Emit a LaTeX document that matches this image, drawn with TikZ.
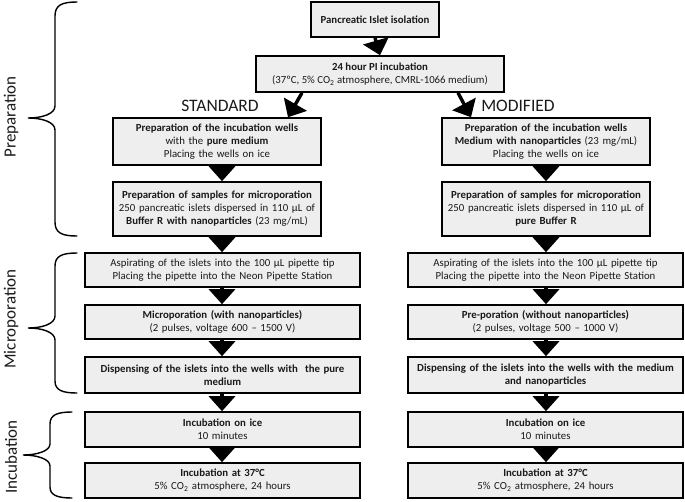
\documentclass[tikz,border=0pt]{standalone}
\usepackage{fontspec}
\setmainfont{Carlito}
\usetikzlibrary{arrows.meta}
\definecolor{boxfill}{HTML}{EEEEEE}
\definecolor{txt}{HTML}{1A1A1A}
\tikzset{
  box/.style={draw, line width=1.6pt, fill=boxfill, align=center, inner sep=1pt,
    text=txt, font=\fontsize{10.8}{13}\selectfont},
  upbox/.style={box, minimum width=208pt, text width=206pt},
  lowbox/.style={box, minimum width=275pt, text width=273pt},
  arr/.style={line width=3.4pt, -{Triangle[width=26pt,length=15pt]}},
  brc/.style={line width=1.4pt, line cap=round},
  side/.style={font=\fontsize{17}{19}\selectfont, text=txt},
  head/.style={font=\fontsize{17.5}{19}\selectfont, text=txt}
}
\begin{document}
\begin{tikzpicture}[x=1pt,y=-1pt]
\useasboundingbox (0,0) rectangle (685,501);
% top
\node[box, minimum width=128pt, minimum height=35pt] (iso) at (375,19.5) {\textbf{Pancreatic Islet isolation}};
\node[box, minimum width=248pt, minimum height=36pt] (pi) at (380,74) {\textbf{24 hour PI incubation}\\(37ºC, 5\% CO\textsubscript{2} atmosphere, CMRL-1066 medium)};
\node[head] (std) at (220,106) {STANDARD};
\node[head] (mod) at (518,106) {MODIFIED};
% left column
\node[upbox, minimum height=47pt] (l1) at (217,141.5) {\textbf{Preparation of the incubation wells}\\with the \textbf{pure medium}\\Placing the wells on ice};
\node[upbox, minimum height=54pt] (l2) at (217,209) {\textbf{Preparation of samples for microporation}\\250 pancreatic islets dispersed in 110 µL of\\\textbf{Buffer R with nanoparticles} (23 mg/mL)};
\node[lowbox, minimum height=34pt] (l3) at (222.5,270) {Aspirating of the islets into the 100 µL pipette tip\\Placing the pipette into the Neon Pipette Station};
\node[lowbox, minimum height=34pt] (l4) at (222.5,322) {\textbf{Microporation (with nanoparticles)}\\(2 pulses, voltage 600 -- 1500 V)};
\node[lowbox, minimum height=36pt] (l5) at (222.5,375) {\textbf{Dispensing of the islets into the wells with\ \ the pure}\\\textbf{medium}};
\node[lowbox, minimum height=35pt] (l6) at (222.5,429.5) {\textbf{Incubation on ice}\\10 minutes};
\node[lowbox, minimum height=35pt] (l7) at (222.5,480.5) {\textbf{Incubation at 37°C}\\5\% CO\textsubscript{2} atmosphere, 24 hours};
% right column
\node[upbox, minimum height=47pt] (r1) at (546,141.5) {\textbf{Preparation of the incubation wells}\\\textbf{Medium with nanoparticles} (23 mg/mL)\\Placing the wells on ice};
\node[upbox, minimum height=54pt] (r2) at (546,209) {\textbf{Preparation of samples for microporation}\\250 pancreatic islets dispersed in 110 µL of\\\textbf{pure Buffer R}};
\node[lowbox, minimum height=34pt] (r3) at (545.5,270) {Aspirating of the islets into the 100 µL pipette tip\\Placing the pipette into the Neon Pipette Station};
\node[lowbox, minimum height=34pt] (r4) at (545.5,322) {\textbf{Pre-poration (without nanoparticles)}\\(2 pulses, voltage 500 -- 1000 V)};
\node[lowbox, minimum height=36pt] (r5) at (545.5,375) {\textbf{Dispensing of the islets into the wells with the medium}\\\textbf{and nanoparticles}};
\node[lowbox, minimum height=35pt] (r6) at (545.5,429.5) {\textbf{Incubation on ice}\\10 minutes};
\node[lowbox, minimum height=35pt] (r7) at (545.5,480.5) {\textbf{Incubation at 37°C}\\5\% CO\textsubscript{2} atmosphere, 24 hours};
% arrows
\draw[arr] (iso.south) -- (pi.north);
\draw[arr] (pi.south -| 302,0) -- (l1.north -| 288,0);
\draw[arr] (pi.south -| 458,0) -- (r1.north -| 471,0);
\foreach \a/\b in {l1/l2,l2/l3,l3/l4,l4/l5,l5/l6,l6/l7}{
  \draw[arr] (\a.south -| 222,0) -- (\b.north -| 222,0);
}
\foreach \a/\b in {r1/r2,r2/r3,r3/r4,r4/r5,r5/r6,r6/r7}{
  \draw[arr] (\a.south -| 546,0) -- (\b.north -| 546,0);
}
% braces
\draw[brc] (77,2) .. controls (62,2) and (55,5) .. (55,16) -- (55,106)
  .. controls (55,114) and (42,118) .. (28,118)
  .. controls (42,118) and (55,122) .. (55,130) -- (55,222)
  .. controls (55,233) and (62,236) .. (77,236);
\draw[brc] (77,253) .. controls (62,253) and (55,256) .. (55,266) -- (55,316)
  .. controls (55,324) and (42,328) .. (28,328)
  .. controls (42,328) and (55,332) .. (55,340) -- (55,381)
  .. controls (55,390) and (62,393) .. (77,393);
\draw[brc] (72,412) .. controls (57,412) and (50,415) .. (50,424) -- (50,444)
  .. controls (50,451) and (37,455) .. (23,455)
  .. controls (37,455) and (50,459) .. (50,466) -- (50,487)
  .. controls (50,495) and (57,498) .. (72,498);
\node[side, rotate=90] (lp) at (11,117) {Preparation};
\node[side, rotate=90] (lm) at (11,319) {Microporation};
\node[side, rotate=90] (li) at (11,457) {Incubation};
\end{tikzpicture}
\end{document}
